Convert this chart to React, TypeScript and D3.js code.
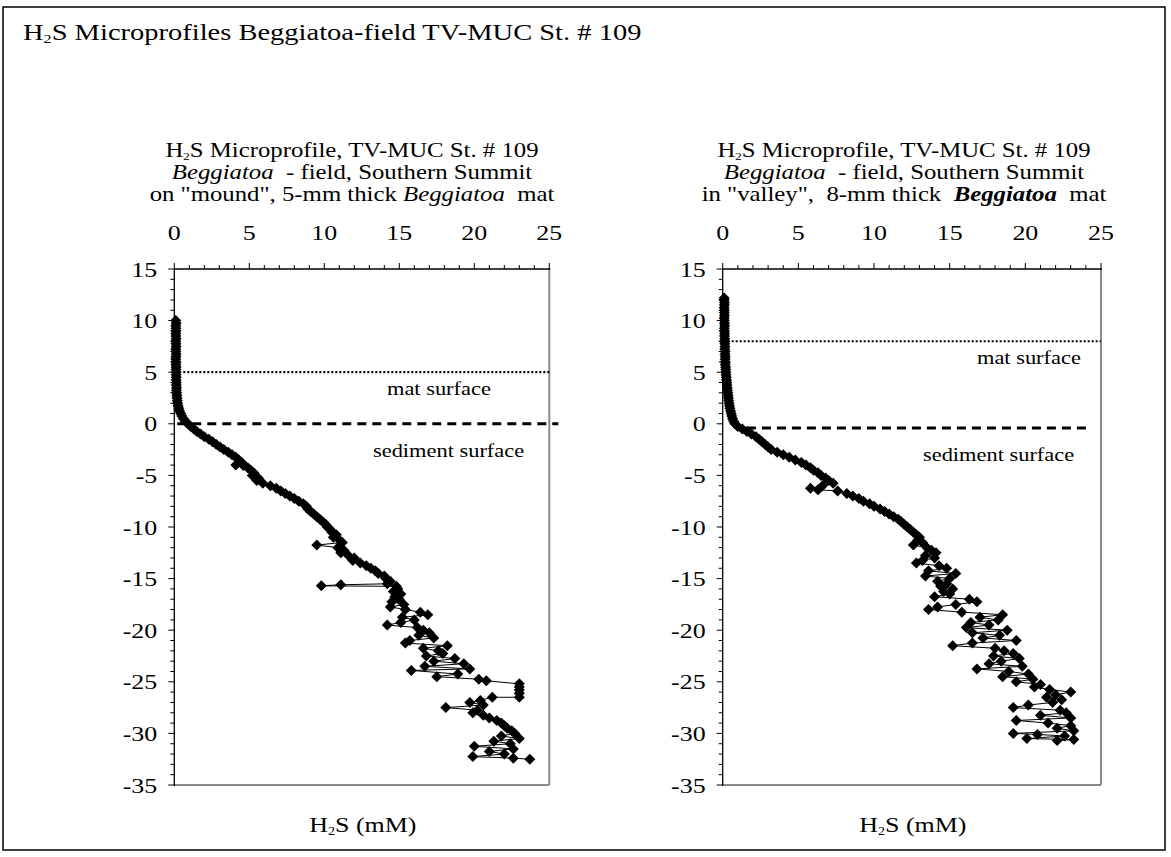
import React from 'react';
import * as d3 from 'd3';

// ---------- data ----------
const depthTicks = [15, 10, 5, 0, -5, -10, -15, -20, -25, -30, -35];
const h2sTicks = [0, 5, 10, 15, 20, 25];
const panelTitles1 = ['H', 'S Microprofile, TV-MUC St. # 109'];
const panelTitles3Left = ['on "mound", 5-mm thick ', 'Beggiatoa', '  mat'];
const panelTitles3Right = ['in "valley",  8-mm thick  ', 'Beggiatoa', '  mat'];
const matSurfaceDepth = [5, 8];
const sedimentSurfaceDepth = [0, -0.4];

// [depth (mm), H2S (mM)]
const moundProfile: [number, number][] = [
  [10.0, 0.1], [9.75, 0.12], [9.5, 0.1], [9.25, 0.11], [9.0, 0.12], [8.75, 0.1], [8.5, 0.11], [8.25, 0.12],
  [8.0, 0.1], [7.75, 0.11], [7.5, 0.12], [7.25, 0.1], [7.0, 0.11], [6.75, 0.12], [6.5, 0.11], [6.25, 0.1],
  [6.0, 0.12], [5.75, 0.11], [5.5, 0.12], [5.25, 0.11], [5.0, 0.13], [4.75, 0.12], [4.5, 0.13], [4.25, 0.12],
  [4.0, 0.14], [3.75, 0.13], [3.5, 0.15], [3.25, 0.14], [3.0, 0.16], [2.75, 0.17], [2.5, 0.18], [2.25, 0.2],
  [2.0, 0.22], [1.75, 0.25], [1.5, 0.3], [1.25, 0.35], [1.0, 0.42], [0.75, 0.5], [0.5, 0.6], [0.25, 0.75],
  [0.0, 0.9], [-0.25, 1.1], [-0.5, 1.3], [-0.75, 1.5], [-1.0, 1.75], [-1.25, 2.0], [-1.5, 2.3], [-1.75, 2.55],
  [-2.0, 2.8], [-2.25, 3.05], [-2.5, 3.3], [-2.75, 3.6], [-3.0, 3.85], [-3.25, 4.1], [-3.5, 4.3], [-3.75, 4.5],
  [-4.0, 4.1], [-4.05, 4.6], [-4.25, 4.9], [-4.5, 5.1], [-4.75, 5.3], [-5.0, 5.2], [-5.25, 5.6], [-5.5, 5.5],
  [-5.75, 5.9], [-6.0, 6.4], [-6.25, 6.8], [-6.5, 7.1], [-6.75, 7.4], [-7.0, 7.7], [-7.25, 8.0], [-7.5, 8.3],
  [-7.75, 8.6], [-8.0, 8.8], [-8.25, 8.9], [-8.5, 9.1], [-8.75, 9.3], [-9.0, 9.5], [-9.25, 9.7], [-9.5, 9.9],
  [-9.75, 10.1], [-10.0, 10.2], [-10.25, 10.4], [-10.5, 10.5], [-10.75, 10.8], [-11.0, 10.6], [-11.25, 11.0],
  [-11.5, 11.2], [-11.75, 9.5], [-12.0, 10.9], [-12.25, 11.3], [-12.5, 11.1], [-12.75, 11.6], [-13.0, 12.0],
  [-13.25, 11.9], [-13.5, 12.4], [-13.75, 12.8], [-14.0, 13.1], [-14.25, 13.4], [-14.5, 13.6], [-14.75, 14.0],
  [-15.0, 14.1], [-15.25, 14.4], [-15.5, 14.2], [-15.6, 11.1], [-15.7, 9.8], [-15.75, 14.8], [-16.0, 14.9],
  [-16.25, 14.6], [-16.5, 15.1], [-16.75, 14.7], [-17.0, 15.0], [-17.25, 14.5], [-17.5, 15.3], [-17.75, 14.4],
  [-18.0, 15.4], [-18.25, 16.4], [-18.5, 16.9], [-18.75, 15.2], [-19.0, 16.0], [-19.25, 15.1], [-19.5, 14.2],
  [-19.75, 16.2], [-20.0, 16.6], [-20.25, 17.0], [-20.5, 16.3], [-20.75, 17.3], [-21.0, 15.7], [-21.25, 15.4],
  [-21.5, 18.2], [-21.75, 16.6], [-22.0, 17.6], [-22.25, 17.9], [-22.5, 16.8], [-22.75, 18.7], [-23.0, 17.3],
  [-23.25, 19.3], [-23.5, 16.7], [-23.75, 19.7], [-23.9, 15.8], [-24.25, 18.9], [-24.5, 17.5], [-24.75, 20.3],
  [-24.9, 20.8], [-25.2, 23.0], [-25.5, 23.0], [-25.8, 23.0], [-26.1, 23.0], [-26.5, 23.0], [-26.5, 21.2],
  [-26.8, 20.4], [-27.0, 19.7], [-27.25, 20.6], [-27.5, 18.1], [-27.75, 20.2], [-28.0, 19.9], [-28.25, 20.6],
  [-28.5, 21.0], [-28.75, 21.5], [-29.0, 21.8], [-29.25, 22.0], [-29.5, 22.2], [-29.75, 22.5], [-30.0, 22.7],
  [-30.25, 21.8], [-30.5, 23.0], [-30.75, 21.3], [-31.0, 22.4], [-31.25, 20.0], [-31.5, 22.6], [-31.75, 21.0],
  [-32.0, 22.0], [-32.25, 19.9], [-32.4, 22.6], [-32.5, 23.7],
];

const valleyProfile: [number, number][] = [
  [12.2, 0.1], [12.0, 0.1], [11.75, 0.12], [11.5, 0.11], [11.25, 0.1], [11.0, 0.12], [10.75, 0.11], [10.5, 0.12],
  [10.25, 0.1], [10.0, 0.11], [9.75, 0.12], [9.5, 0.13], [9.25, 0.11], [9.0, 0.12], [8.75, 0.13], [8.5, 0.12],
  [8.25, 0.14], [8.0, 0.13], [7.75, 0.14], [7.5, 0.15], [7.25, 0.14], [7.0, 0.16], [6.75, 0.15], [6.5, 0.17],
  [6.25, 0.16], [6.0, 0.18], [5.75, 0.17], [5.5, 0.19], [5.25, 0.2], [5.0, 0.21], [4.75, 0.22], [4.5, 0.24],
  [4.25, 0.25], [4.0, 0.27], [3.75, 0.28], [3.5, 0.3], [3.25, 0.32], [3.0, 0.34], [2.75, 0.36], [2.5, 0.38],
  [2.25, 0.4], [2.0, 0.42], [1.75, 0.45], [1.5, 0.48], [1.25, 0.52], [1.0, 0.56], [0.75, 0.6], [0.5, 0.65],
  [0.25, 0.72], [0.0, 0.8], [-0.25, 1.0], [-0.5, 1.3], [-0.75, 1.6], [-1.0, 1.9], [-1.25, 2.2], [-1.5, 2.4],
  [-1.75, 2.6], [-2.0, 2.8], [-2.25, 3.0], [-2.5, 3.2], [-2.75, 3.6], [-3.0, 4.0], [-3.25, 4.4], [-3.5, 4.8],
  [-3.75, 5.2], [-4.0, 5.5], [-4.25, 5.8], [-4.5, 6.0], [-4.75, 6.3], [-5.0, 6.5], [-5.25, 6.8], [-5.5, 7.0],
  [-5.75, 7.3], [-6.0, 6.6], [-6.25, 5.8], [-6.4, 6.3], [-6.5, 7.6], [-6.75, 8.2], [-7.0, 8.6], [-7.25, 9.0],
  [-7.5, 9.3], [-7.75, 9.7], [-8.0, 10.0], [-8.25, 10.4], [-8.5, 10.7], [-8.75, 11.0], [-9.0, 11.3],
  [-9.25, 11.6], [-9.5, 11.8], [-9.75, 12.0], [-10.0, 12.2], [-10.25, 12.4], [-10.5, 12.6], [-10.75, 12.8],
  [-11.0, 13.0], [-11.25, 12.9], [-11.5, 13.2], [-11.75, 12.6], [-12.0, 13.5], [-12.25, 13.8], [-12.5, 14.1],
  [-12.75, 13.4], [-13.0, 14.0], [-13.25, 13.2], [-13.5, 12.8], [-13.75, 14.3], [-14.0, 14.8], [-14.25, 13.6],
  [-14.5, 15.4], [-14.75, 13.4], [-15.0, 15.0], [-15.25, 14.2], [-15.5, 14.8], [-15.75, 14.4], [-16.0, 15.2],
  [-16.25, 14.6], [-16.5, 15.0], [-16.75, 14.0], [-17.0, 16.3], [-17.25, 16.8], [-17.5, 15.4], [-17.75, 14.2],
  [-18.0, 13.6], [-18.25, 15.8], [-18.5, 18.5], [-18.75, 17.0], [-19.0, 18.2], [-19.25, 16.4], [-19.5, 17.6],
  [-19.75, 16.1], [-20.0, 18.8], [-20.25, 16.5], [-20.5, 18.3], [-20.75, 17.2], [-21.0, 19.4], [-21.25, 16.5],
  [-21.5, 15.2], [-21.75, 18.0], [-22.0, 18.6], [-22.25, 19.2], [-22.5, 17.9], [-22.75, 19.6], [-23.0, 18.4],
  [-23.25, 17.6], [-23.5, 19.8], [-23.75, 16.8], [-24.0, 18.9], [-24.25, 20.2], [-24.5, 18.5], [-24.75, 20.5],
  [-25.0, 19.4], [-25.25, 21.0], [-25.5, 20.6], [-25.75, 21.6], [-26.0, 23.0], [-26.25, 22.0], [-26.5, 21.4],
  [-26.75, 22.4], [-27.0, 21.8], [-27.25, 20.2], [-27.5, 19.2], [-27.75, 22.3], [-28.0, 22.7], [-28.25, 21.0],
  [-28.5, 23.0], [-28.75, 19.4], [-29.0, 21.5], [-29.25, 23.0], [-29.5, 22.1], [-29.75, 23.2], [-30.0, 19.2],
  [-30.1, 20.8], [-30.25, 22.6], [-30.5, 20.1], [-30.6, 23.2], [-30.7, 22.1],
];

// ---------- layout ----------
const FONT = '"Liberation Serif", "DejaVu Serif", serif';
const SX = 1.18;
const Y_TOP = 269;
const Y_BOT = 785;

type TProps = { x: number; y: number; size: number; anchor?: string; sx?: number; children: any; weight?: string };
function T({ x, y, size, anchor = 'start', sx = SX, children, weight }: TProps) {
  return (
    <g transform={`translate(${x},${y}) scale(${sx},1)`}>
      <text
        textAnchor={anchor as any}
        fill="#000"
        style={{ whiteSpace: 'pre', fontFamily: FONT, fontSize: size, fontWeight: (weight as any) || 'normal' }}
      >
        {children}
      </text>
    </g>
  );
}

const diamond = 'M0,-5.5L5.5,0L0,5.5L-5.5,0Z';

type PanelProps = {
  x0: number;
  x1: number;
  data: [number, number][];
  line3: string[];
  line3Bold: boolean;
  matDepth: number;
  sedDepth: number;
  matRange: [number, number];
  sedRange: [number, number];
  matLabelX: number;
  sedLabelX: number;
  headerCx: number;
};

function Sub({ size }: { size: number }) {
  return (
    <tspan style={{ fontSize: size }} dy={2.5}>
      2
    </tspan>
  );
}

function Panel(p: PanelProps) {
  const x = d3.scaleLinear().domain([0, 25]).range([p.x0, p.x1]);
  const y = d3.scaleLinear().domain([-35, 15]).range([Y_BOT, Y_TOP]);
  const line = d3
    .line<[number, number]>()
    .x((d) => x(d[1]))
    .y((d) => y(d[0]));
  const minorY = d3.range(-35, 16, 1);
  const minorX = d3.range(0, 26, 1);
  const hs = 21;
  return (
    <g>
      {/* header */}
      <T x={p.headerCx} y={157} size={hs} anchor="middle">
        {panelTitles1[0]}
        <Sub size={11} />
        <tspan dy={-2.5}>{panelTitles1[1]}</tspan>
      </T>
      <T x={p.headerCx} y={179} size={hs} anchor="middle">
        <tspan style={{ fontStyle: 'italic' }}>Beggiatoa</tspan>
        <tspan>{'  - field, Southern Summit'}</tspan>
      </T>
      <T x={p.headerCx} y={201} size={hs} anchor="middle">
        <tspan>{p.line3[0]}</tspan>
        <tspan style={{ fontStyle: 'italic', fontWeight: p.line3Bold ? 'bold' : 'normal' }}>{p.line3[1]}</tspan>
        <tspan>{p.line3[2]}</tspan>
      </T>

      {/* plot border */}
      <line x1={p.x1} x2={p.x1} y1={Y_TOP} y2={Y_BOT} stroke="#8a8a8a" strokeWidth={2} />
      <line x1={p.x0} x2={p.x1} y1={Y_BOT} y2={Y_BOT} stroke="#8a8a8a" strokeWidth={2} />
      <line x1={p.x0} x2={p.x1 + 1} y1={Y_TOP} y2={Y_TOP} stroke="#000" strokeWidth={1.3} />
      <line x1={p.x0} x2={p.x0} y1={Y_TOP} y2={Y_BOT + 1} stroke="#000" strokeWidth={1.3} />

      {/* ticks */}
      {minorY.map((v) => (
        <line
          key={'my' + v}
          x1={p.x0 - (v % 5 === 0 ? 6 : 4)}
          x2={p.x0}
          y1={y(v)}
          y2={y(v)}
          stroke="#000"
          strokeWidth={1}
        />
      ))}
      {minorX.map((v) => (
        <line
          key={'mx' + v}
          x1={x(v)}
          x2={x(v)}
          y1={Y_TOP - (v % 5 === 0 ? 6 : 4)}
          y2={Y_TOP}
          stroke="#000"
          strokeWidth={1}
        />
      ))}
      {depthTicks.map((v) => (
        <T key={'yl' + v} x={p.x0 - 17} y={y(v) + 7.5} size={22} anchor="end">
          {String(v)}
        </T>
      ))}
      {h2sTicks.map((v) => (
        <T key={'xl' + v} x={x(v)} y={240} size={22} anchor="middle">
          {String(v)}
        </T>
      ))}

      {/* surface lines */}
      <line
        x1={x(p.matRange[0])}
        x2={x(p.matRange[1])}
        y1={y(p.matDepth)}
        y2={y(p.matDepth)}
        stroke="#000"
        strokeWidth={2.2}
        strokeDasharray="2,2"
      />
      <line
        x1={x(p.sedRange[0])}
        x2={x(p.sedRange[1])}
        y1={y(p.sedDepth)}
        y2={y(p.sedDepth)}
        stroke="#000"
        strokeWidth={3}
        strokeDasharray="9,6"
      />
      <T x={p.matLabelX} y={y(p.matDepth) + 23} size={19}>mat surface</T>
      <T x={p.sedLabelX} y={y(p.sedDepth) + 33} size={19}>sediment surface</T>

      {/* profile */}
      <path d={line(p.data) || ''} fill="none" stroke="#000" strokeWidth={1} />
      {p.data.map((d, i) => (
        <path key={i} d={diamond} transform={`translate(${x(d[1])},${y(d[0])})`} fill="#000" />
      ))}

      {/* x-axis title */}
      <T x={(p.x0 + p.x1) / 2 + 1} y={832} size={22} anchor="middle">
        H
        <Sub size={12} />
        <tspan dy={-2.5}>S (mM)</tspan>
      </T>
    </g>
  );
}

export default function App() {
  return (
    <svg width={1171} height={857} style={{ position: 'absolute', left: 0, top: 0, background: '#fff' }}>
      <rect x={0} y={0} width={1171} height={857} fill="#fff" />
      <rect x={3} y={7} width={1162} height={843} fill="none" stroke="#000" strokeWidth={1.5} />
      <T x={23} y={40} size={23} sx={1.24}>
        H
        <Sub size={13} />
        <tspan dy={-2.5}>S Microprofiles Beggiatoa-field TV-MUC St. # 109</tspan>
      </T>
      <Panel
        x0={174.3}
        x1={549.3}
        data={moundProfile}
        line3={panelTitles3Left}
        line3Bold={false}
        matDepth={matSurfaceDepth[0]}
        sedDepth={sedimentSurfaceDepth[0]}
        matRange={[0.6, 25]}
        sedRange={[0.2, 25.6]}
        matLabelX={387}
        sedLabelX={373}
        headerCx={352}
      />
      <Panel
        x0={722.7}
        x1={1101}
        data={valleyProfile}
        line3={panelTitles3Right}
        line3Bold={true}
        matDepth={matSurfaceDepth[1]}
        sedDepth={sedimentSurfaceDepth[1]}
        matRange={[-0.2, 25]}
        sedRange={[1.6, 24.3]}
        matLabelX={977}
        sedLabelX={923}
        headerCx={904}
      />
    </svg>
  );
}
